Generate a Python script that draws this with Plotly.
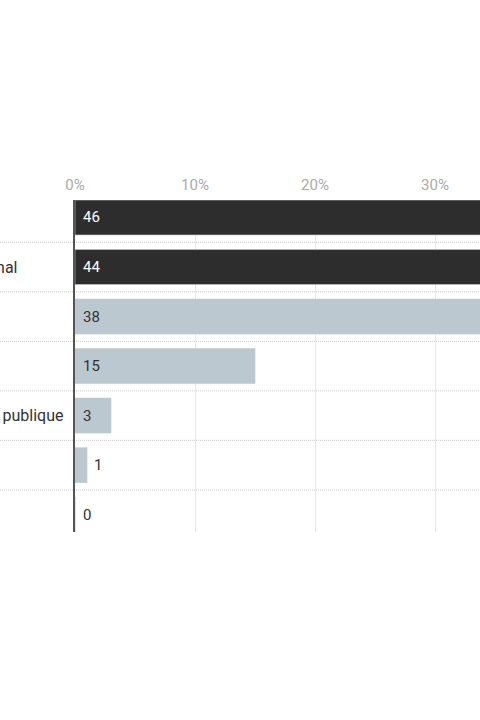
import plotly.graph_objects as go

# ---- data ----
categories = ["Télévision", "Quotidien national", "Internet", "Radio",
              "Chaîne de radio publique", "Autre", "Aucun"]
values = [46, 44, 38, 15, 3, 1, 0]
highlight = [True, True, False, False, False, False, False]
tick_values = [0, 10, 20, 30, 40, 50]
tick_labels = ["0%", "10%", "20%", "30%", "40%", "50%"]

# ---- style ----
W, H = 480, 720
ML, MR, MT = 75, 0, 200
MB = H - MT - 332
PLOT_W = W - ML - MR
PX_PER_UNIT = 12.0          # 10% = 120 px
DARK = "#2d2d2d"
LIGHT = "#bcc8d0"
FONT = "Roboto"
LABEL_X0_PX = -114          # left edge of category labels (clipped by page)

def px_to_paper(px):
    return (px - ML) / PLOT_W

colors = [DARK if h else LIGHT for h in highlight]

fig = go.Figure()
fig.add_trace(go.Bar(
    x=values, y=categories, orientation="h",
    marker=dict(color=colors, line=dict(color="#c8c8c8", width=0.6)),
    hoverinfo="skip", showlegend=False,
))

annotations = []
n = len(categories)
for i, (cat, v, h) in enumerate(zip(categories, values, highlight)):
    annotations.append(dict(
        x=px_to_paper(LABEL_X0_PX), xref="paper", y=cat, yref="y",
        text=cat, showarrow=False, xanchor="left", yanchor="middle",
        font=dict(family=FONT, size=16, color="#333333"),
    ))
    inside = v * PX_PER_UNIT >= 30
    if inside:
        annotations.append(dict(
            x=0, xref="x", y=cat, yref="y", text=str(v), showarrow=False,
            xanchor="left", yanchor="middle", xshift=6,
            font=dict(family=FONT, size=15, color="#ffffff" if h else "#333333"),
        ))
    else:
        annotations.append(dict(
            x=v, xref="x", y=cat, yref="y", text=str(v), showarrow=False,
            xanchor="left", yanchor="middle", xshift=5 if v > 0 else 6,
            font=dict(family=FONT, size=15, color="#333333"),
        ))

shapes = []
for i in range(n - 1):
    shapes.append(dict(
        type="line", xref="paper", yref="y",
        x0=px_to_paper(0), x1=1, y0=i + 0.5, y1=i + 0.5,
        line=dict(color="#cccccc", width=1, dash="1px,1px"), layer="below",
    ))

fig.update_layout(
    width=W, height=H,
    margin=dict(l=ML, r=MR, t=MT, b=MB, pad=0),
    paper_bgcolor="white", plot_bgcolor="white",
    bargap=0.294,
    font=dict(family=FONT),
    xaxis=dict(
        side="top", range=[0, PLOT_W / PX_PER_UNIT],
        tickvals=tick_values, ticktext=tick_labels,
        tickfont=dict(family=FONT, size=15, color="#aaaaaa"),
        showgrid=True, gridcolor="#e8e8e8", gridwidth=1,
        zeroline=False, showline=False, ticks="", ticklabelstandoff=6,
        fixedrange=True,
    ),
    yaxis=dict(
        categoryorder="array", categoryarray=categories,
        range=[n - 1 + 0.35, -0.353],
        showticklabels=False, showgrid=False, zeroline=False,
        showline=True, linecolor="#555555", linewidth=1.5, ticks="",
        layer="above traces", fixedrange=True,
    ),
    annotations=annotations, shapes=shapes,
)

fig.write_html(
    "out.html",
    config={"displayModeBar": False},
    post_script="document.body.style.margin='0';"
                "document.documentElement.style.overflow='hidden';",
)
